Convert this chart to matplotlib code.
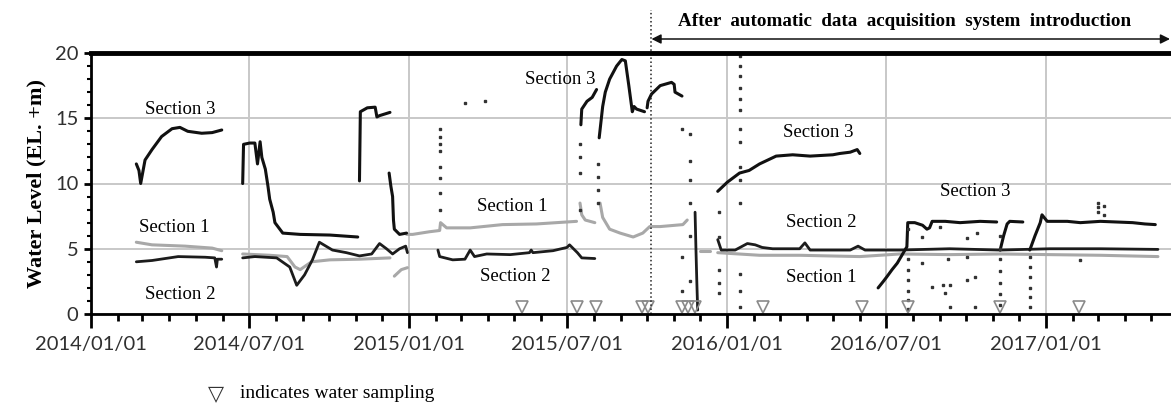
import numpy as np
import matplotlib.pyplot as plt
import matplotlib.dates as mdates
import matplotlib.transforms as mtransforms

# ---- Section 1 (light grey) ----
s1_a_dates = ['2014-02-22', '2014-03-12', '2014-04-19', '2014-05-20', '2014-05-31']
s1_a_vals = [5.5, 5.3, 5.2, 5.05, 4.85]
s1_b_dates = ['2014-06-24', '2014-07-25', '2014-08-14', '2014-08-23', '2014-08-29',
              '2014-09-11', '2014-10-02', '2014-11-05', '2014-12-10']
s1_b_vals = [4.6, 4.5, 4.4, 3.6, 3.4, 4.0, 4.15, 4.2, 4.3]
s1_b2_dates = ['2014-12-15', '2014-12-23', '2014-12-30']
s1_b2_vals = [2.9, 3.4, 3.55]
s1_c_dates = ['2014-12-29', '2015-01-05', '2015-01-24', '2015-02-05', '2015-02-06',
              '2015-02-13', '2015-03-12', '2015-04-18', '2015-05-27', '2015-07-12']
s1_c_vals = [6.1, 6.1, 6.3, 6.4, 7.0, 6.6, 6.6, 6.85, 6.9, 7.1]
s1_d_dates = ['2015-07-16', '2015-07-18', '2015-07-22', '2015-08-02']
s1_d_vals = [8.5, 7.6, 7.2, 7.0]
s1_e_dates = ['2015-08-08', '2015-08-11', '2015-08-19', '2015-08-31', '2015-09-15',
              '2015-09-26', '2015-10-04', '2015-10-16', '2015-11-11', '2015-11-16']
s1_e_vals = [8.5, 7.4, 6.5, 6.2, 5.9, 6.2, 6.7, 6.7, 6.85, 7.2]
s1_f_dates = ['2015-12-01', '2015-12-12']
s1_f_vals = [4.8, 4.8]
s1_g_dates = ['2015-12-21', '2016-02-07', '2016-03-24', '2016-06-01', '2016-07-17',
              '2016-09-12', '2016-11-09', '2017-01-05', '2017-03-04', '2017-05-09']
s1_g_vals = [4.7, 4.5, 4.5, 4.4, 4.6, 4.55, 4.6, 4.55, 4.5, 4.4]

# ---- Section 2 (black) ----
s2_a_dates = ['2014-02-22', '2014-03-12', '2014-04-11', '2014-05-12', '2014-05-23',
              '2014-05-25', '2014-05-26', '2014-05-31']
s2_a_vals = [4.0, 4.1, 4.4, 4.35, 4.3, 3.6, 4.2, 4.2]
s2_b_dates = ['2014-06-24', '2014-07-08', '2014-08-02', '2014-08-17', '2014-08-25',
              '2014-09-03', '2014-09-12', '2014-09-20', '2014-10-05', '2014-10-21',
              '2014-11-05', '2014-11-19', '2014-11-28', '2014-12-06', '2014-12-13',
              '2014-12-21', '2014-12-28', '2014-12-30']
s2_b_vals = [4.3, 4.4, 4.3, 3.6, 2.2, 3.0, 4.15, 5.5, 4.9, 4.7,
             4.45, 4.6, 5.4, 5.0, 4.6, 5.0, 5.2, 4.7]
s2_c_dates = ['2015-02-03', '2015-02-05', '2015-02-20', '2015-03-06', '2015-03-12',
              '2015-03-17', '2015-03-31', '2015-04-27', '2015-05-19', '2015-05-21',
              '2015-05-23', '2015-06-15', '2015-07-01', '2015-07-04', '2015-07-10',
              '2015-07-13', '2015-07-18', '2015-08-02']
s2_c_vals = [4.9, 4.4, 4.15, 4.2, 4.9, 4.4, 4.6, 4.55, 4.7, 4.9,
             4.7, 4.85, 5.1, 5.3, 4.9, 4.7, 4.3, 4.25]
s2_d_dates = ['2015-11-25', '2015-11-26', '2015-11-27', '2015-11-28']
s2_d_vals = [7.8, 5.0, 2.5, 0.3]
s2_e_dates = ['2015-12-21', '2015-12-25', '2016-01-10', '2016-01-24', '2016-02-02',
              '2016-02-10', '2016-02-22', '2016-03-24', '2016-03-30', '2016-04-05',
              '2016-05-21', '2016-05-30', '2016-06-07', '2016-07-17', '2016-09-12',
              '2016-11-09', '2017-01-05', '2017-03-04', '2017-05-09']
s2_e_vals = [5.7, 4.9, 4.9, 5.4, 5.3, 5.1, 5.0, 5.0, 5.45, 4.9,
             4.9, 5.2, 4.9, 4.9, 5.0, 4.9, 5.0, 5.0, 4.95]

# ---- Section 3 (black) ----
s3_a_dates = ['2014-02-22', '2014-02-25', '2014-02-27', '2014-03-04', '2014-03-12',
              '2014-03-23', '2014-04-04', '2014-04-13', '2014-04-22', '2014-05-08',
              '2014-05-20', '2014-05-31']
s3_a_vals = [11.5, 11.0, 10.0, 11.8, 12.6, 13.6, 14.2, 14.3, 14.0, 13.85, 13.9, 14.1]
s3_b_dates = ['2014-06-24', '2014-06-25', '2014-07-02', '2014-07-08', '2014-07-11',
              '2014-07-14', '2014-07-16', '2014-07-20', '2014-07-23', '2014-07-25',
              '2014-07-29', '2014-07-31', '2014-08-09', '2014-08-29', '2014-10-02',
              '2014-11-03']
s3_b_vals = [10.0, 13.0, 13.1, 13.1, 11.5, 13.2, 12.0, 11.1, 9.8, 8.8,
             7.8, 7.0, 6.2, 6.1, 6.05, 5.9]
s3_c_dates = ['2014-11-05', '2014-11-06', '2014-11-14', '2014-11-23', '2014-11-25',
              '2014-11-28', '2014-12-10']
s3_c_vals = [10.2, 15.5, 15.8, 15.85, 15.1, 15.2, 15.45]
s3_d_dates = ['2014-12-09', '2014-12-11', '2014-12-13', '2014-12-14', '2014-12-15',
              '2014-12-21', '2014-12-29']
s3_d_vals = [10.8, 9.8, 9.0, 7.2, 6.5, 6.1, 6.2]
s3_e_dates = ['2015-07-17', '2015-07-18', '2015-07-24', '2015-07-30', '2015-08-04']
s3_e_vals = [14.5, 15.7, 16.3, 16.6, 17.2]
s3_f_dates = ['2015-08-07', '2015-08-11', '2015-08-14', '2015-08-19', '2015-08-27',
              '2015-09-02', '2015-09-06', '2015-09-10', '2015-09-14', '2015-09-16',
              '2015-09-19', '2015-09-28']
s3_f_vals = [13.5, 15.9, 17.0, 18.0, 19.0, 19.5, 19.4, 17.5, 15.5, 15.9, 15.7, 15.5]
s3_g_dates = ['2015-10-01', '2015-10-02', '2015-10-06', '2015-10-16', '2015-10-29',
              '2015-11-01', '2015-11-02', '2015-11-10']
s3_g_vals = [15.8, 16.3, 16.85, 17.5, 17.75, 17.6, 17.0, 16.7]
s3_h_dates = ['2015-12-21', '2016-01-01', '2016-01-15', '2016-01-26', '2016-02-07',
              '2016-02-26', '2016-03-16', '2016-04-05', '2016-05-01', '2016-05-09',
              '2016-05-21', '2016-05-29', '2016-06-01']
s3_h_vals = [9.4, 10.1, 10.8, 11.0, 11.5, 12.1, 12.2, 12.1, 12.2, 12.3, 12.4, 12.6, 12.3]
s3_i_dates = ['2016-06-22', '2016-06-28', '2016-07-02', '2016-07-08', '2016-07-14',
              '2016-07-21', '2016-07-25', '2016-07-26', '2016-08-03', '2016-08-12',
              '2016-08-17', '2016-08-20', '2016-08-23', '2016-09-07', '2016-09-24',
              '2016-10-17', '2016-11-05']
s3_i_vals = [2.0, 2.5, 2.85, 3.4, 3.9, 4.7, 5.15, 7.0, 7.0, 6.8,
             6.5, 6.6, 7.1, 7.1, 7.0, 7.1, 7.05]
s3_j_dates = ['2016-11-09', '2016-11-13', '2016-11-17', '2016-11-20', '2016-12-05']
s3_j_vals = [4.9, 6.0, 6.9, 7.1, 7.05]
s3_k_dates = ['2016-12-13', '2016-12-19', '2016-12-25', '2016-12-27', '2017-01-02',
              '2017-01-25', '2017-02-09', '2017-03-04', '2017-04-10', '2017-04-24',
              '2017-05-06']
s3_k_vals = [4.9, 6.0, 7.0, 7.6, 7.1, 7.1, 7.0, 7.1, 7.0, 6.9, 6.85]

# scattered single readings (spikes / dropouts)
dot_dates = (['2015-02-05'] * 8 + ['2015-03-06', '2015-03-29']
             + ['2015-07-16'] * 4 + ['2015-08-06'] * 4
             + ['2015-11-10'] * 3 + ['2015-11-19'] * 6
             + ['2015-12-23'] * 5 + ['2016-01-15'] * 14
             + ['2016-07-26'] * 7
             + ['2016-08-11', '2016-08-11', '2016-08-23', '2016-09-01', '2016-09-04',
                '2016-09-07', '2016-09-10', '2016-09-12', '2016-09-12', '2016-10-02',
                '2016-10-02', '2016-10-02', '2016-10-11', '2016-10-11', '2016-10-13']
             + ['2016-11-09'] * 7 + ['2016-12-13'] * 6
             + ['2017-02-09', '2017-03-01', '2017-03-01', '2017-03-01', '2017-03-08', '2017-03-08'])
dot_vals = ([14.2, 13.6, 13.0, 12.5, 11.3, 10.4, 9.3, 8.0] + [16.2, 16.3]
            + [10.8, 12.0, 13.0, 8.0] + [8.5, 9.5, 10.5, 11.5]
            + [14.2, 4.4, 1.8] + [13.8, 11.7, 10.3, 8.5, 6.0, 2.5]
            + [7.8, 5.9, 3.4, 2.4, 1.6]
            + [19.8, 19.0, 18.2, 17.3, 16.5, 15.6, 14.2, 13.2, 11.3, 10.3, 8.5, 3.1, 1.8, 0.5]
            + [6.5, 4.2, 3.4, 2.6, 1.8, 1.1, 0.4]
            + [5.9, 3.9, 2.1, 6.7, 2.2, 1.6, 4.2, 2.2, 0.5, 5.8,
               4.4, 2.6, 2.8, 0.5, 6.2]
            + [6.0, 5.0, 4.2, 3.3, 2.4, 1.5, 0.7] + [4.4, 3.6, 2.8, 2.0, 1.3, 0.5]
            + [4.1, 8.5, 8.2, 7.8, 8.3, 7.6])

# water sampling dates
sampling_dates = ['2015-05-11', '2015-07-13', '2015-08-03', '2015-09-25', '2015-10-02',
                  '2015-11-10', '2015-11-17', '2015-11-25', '2016-02-11', '2016-06-03',
                  '2016-07-26', '2016-11-09', '2017-02-07']

system_start = '2015-10-06'

s1_segments = [(s1_a_dates, s1_a_vals), (s1_b_dates, s1_b_vals), (s1_b2_dates, s1_b2_vals),
               (s1_c_dates, s1_c_vals), (s1_d_dates, s1_d_vals), (s1_e_dates, s1_e_vals),
               (s1_f_dates, s1_f_vals), (s1_g_dates, s1_g_vals)]
s2_segments = [(s2_a_dates, s2_a_vals), (s2_b_dates, s2_b_vals), (s2_c_dates, s2_c_vals),
               (s2_d_dates, s2_d_vals), (s2_e_dates, s2_e_vals)]
s3_segments = [(s3_a_dates, s3_a_vals), (s3_b_dates, s3_b_vals), (s3_c_dates, s3_c_vals),
               (s3_d_dates, s3_d_vals), (s3_e_dates, s3_e_vals), (s3_f_dates, s3_f_vals),
               (s3_g_dates, s3_g_vals), (s3_h_dates, s3_h_vals), (s3_i_dates, s3_i_vals),
               (s3_j_dates, s3_j_vals), (s3_k_dates, s3_k_vals)]


def d(s):
    return np.array(s, dtype='datetime64[D]')


fig = plt.figure(figsize=(11.71, 4.05), dpi=100)
ax = fig.add_axes([91 / 1171, 1 - 314 / 405, 1 - 91 / 1171, 261 / 405])

ax.set_xlim(d('2014-01-01'), d('2017-05-24'))
ax.set_ylim(0, 20)

ax.grid(True, color='#c8c8c8', lw=1.4)
ax.set_axisbelow(True)

for dt, v in s1_segments:
    ax.plot(d(dt), v, color='#a8a8a8', lw=2.2, solid_capstyle='round')
for dt, v in s2_segments:
    ax.plot(d(dt), v, color='#1c1c1c', lw=2.0, solid_capstyle='round')
for dt, v in s3_segments:
    ax.plot(d(dt), v, color='#111111', lw=2.2, solid_capstyle='round')
ax.plot(d(dot_dates), dot_vals, ls='none', marker='s', ms=1.6, color='#333333')

# sampling markers
ax.plot(d(sampling_dates), [0.55] * len(sampling_dates), ls='none', marker='v', ms=9,
        mfc='none', mec='#8a8a8a', mew=1.2, clip_on=False)

# axis styling
ax.spines['right'].set_visible(False)
ax.spines['top'].set_linewidth(3.5)
ax.spines['left'].set_linewidth(2)
ax.spines['bottom'].set_linewidth(2)

ax.xaxis.set_major_locator(mdates.MonthLocator(bymonth=[1, 7]))
ax.xaxis.set_minor_locator(mdates.MonthLocator())
ax.xaxis.set_major_formatter(mdates.DateFormatter('%Y/%m/%d'))
ax.yaxis.set_major_locator(plt.MultipleLocator(5))
ax.yaxis.set_minor_locator(plt.MultipleLocator(1))
ax.tick_params(axis='x', which='major', length=10, width=2, pad=6,
               labelsize=14.5, labelcolor='#303030')
ax.tick_params(axis='x', which='minor', length=5, width=2)
ax.tick_params(axis='y', which='major', length=5, width=2, pad=4,
               labelsize=14.5, labelcolor='#303030')
ax.tick_params(axis='y', which='minor', length=3, width=1.5)
for lab in ax.get_xticklabels() + ax.get_yticklabels():
    lab.set_family('Lato')

ax.set_ylabel('Water Level (EL. +m)', family='Liberation Serif', fontweight='bold',
              fontsize=16, labelpad=6)

# section labels
lab_kw = dict(family='Liberation Serif', fontsize=13.5, ha='center', va='center')
ax.text(d('2014-04-13'), 15.7, 'Section 3', **lab_kw)
ax.text(d('2014-04-07'), 6.6, 'Section 1', **lab_kw)
ax.text(d('2014-04-13'), 1.5, 'Section 2', **lab_kw)
ax.text(d('2015-06-23'), 18.0, 'Section 3', **lab_kw)
ax.text(d('2015-04-29'), 8.2, 'Section 1', **lab_kw)
ax.text(d('2015-05-03'), 2.9, 'Section 2', **lab_kw)
ax.text(d('2016-04-14'), 13.9, 'Section 3', **lab_kw)
ax.text(d('2016-04-18'), 7.0, 'Section 2', **lab_kw)
ax.text(d('2016-04-18'), 2.8, 'Section 1', **lab_kw)
ax.text(d('2016-10-11'), 9.4, 'Section 3', **lab_kw)

# start of automatic acquisition
trans = mtransforms.blended_transform_factory(ax.transData, ax.transAxes)
ax.plot([d(system_start), d(system_start)], [0, (314 - 10) / 261], transform=trans,
        color='#222222', ls=':', lw=1.1, clip_on=False)
ax.annotate('', xy=(1170 / 1171, 1 - 39 / 405), xycoords='figure fraction',
            xytext=(d(system_start), 1 - 39 / 405),
            textcoords=(ax.transData, fig.transFigure),
            arrowprops=dict(arrowstyle='<|-|>', color='#111111', lw=1.1,
                            mutation_scale=14, shrinkA=0, shrinkB=0))
fig.text(905 / 1171, 1 - 21 / 405,
         'After  automatic  data  acquisition  system  introduction',
         family='Liberation Serif', fontweight='bold', fontsize=13.7,
         ha='center', va='center')

# footnote
fig.text(216 / 1171, 1 - 394 / 405, '\u25BD', family='DejaVu Sans', fontsize=15,
         ha='center', va='center', color='#333333')
fig.text(240 / 1171, 1 - 394 / 405, 'indicates water sampling',
         family='Liberation Serif', fontsize=14, ha='left', va='center')

fig.savefig('out.png', dpi=100)
